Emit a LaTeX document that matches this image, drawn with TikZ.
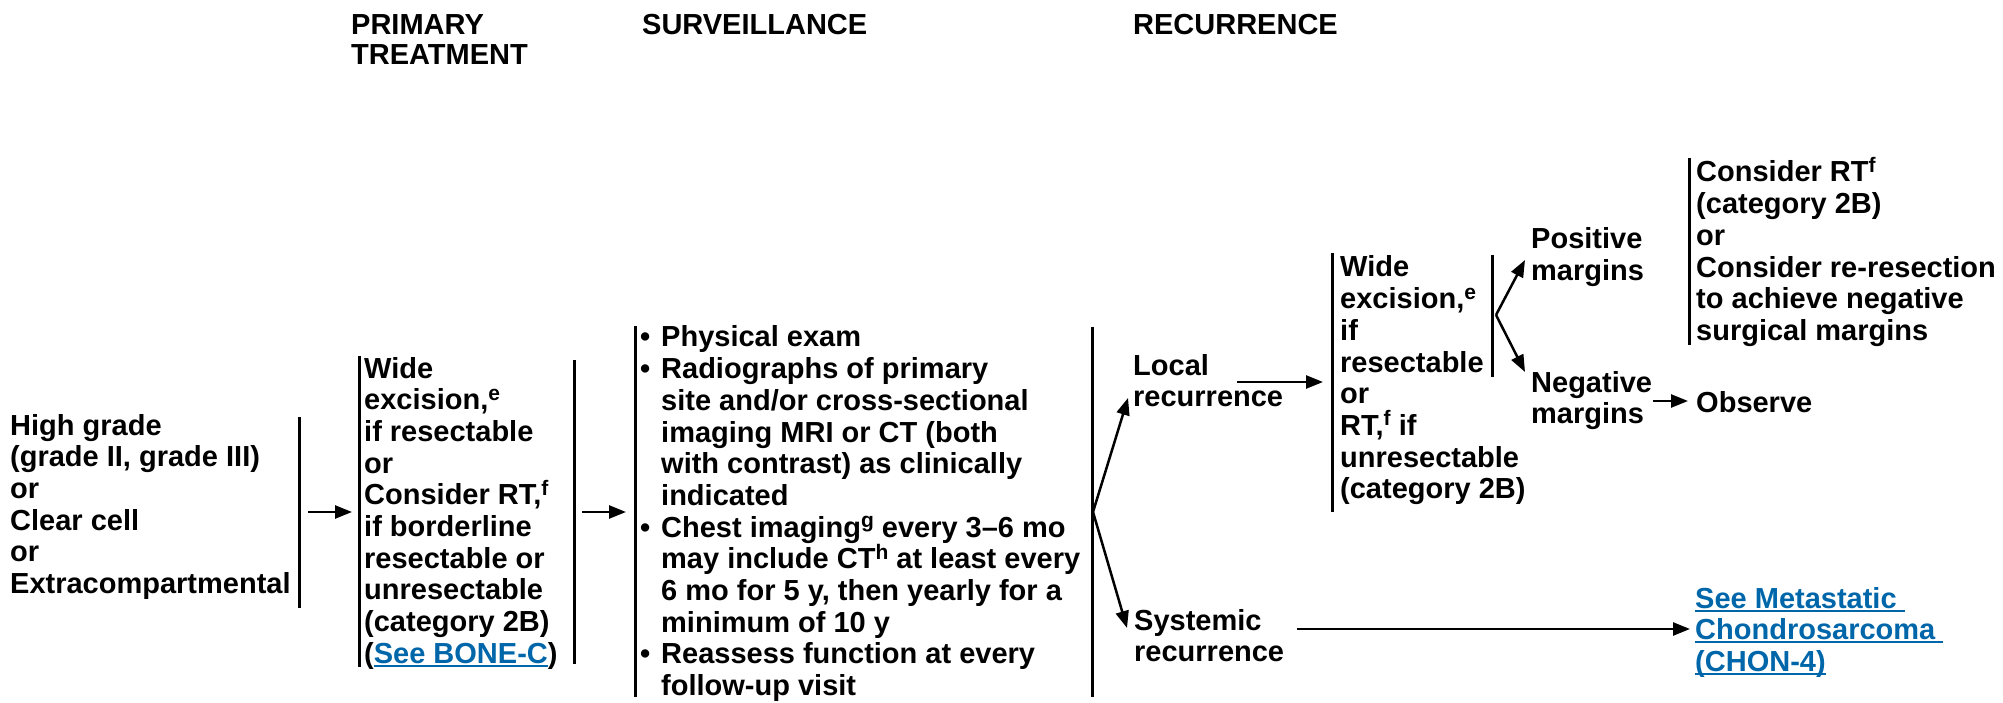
\documentclass[tikz,border=0pt]{standalone}
\usepackage{fontspec}
\setmainfont{Liberation Sans}
\usetikzlibrary{arrows.meta}
\definecolor{linkblue}{RGB}{0,102,170}
\newcommand\sups[1]{\smash{\raisebox{9.5pt}{\fontsize{21}{21}\selectfont #1}}}
\newcommand\lnk[1]{{\color{linkblue}\setbox0=\hbox{#1}\rlap{\rule[-3.5pt]{\wd0}{1.8pt}}\box0}}
\newcommand\bul{\makebox[21pt][l]{\textbullet}}
\newcommand\ind{\hspace*{21pt}}
\newcommand\lines[1]{\begin{tabular}[t]{@{}l@{}}#1\end{tabular}}
\tikzset{
  txt/.style={anchor=base west, inner sep=0pt, font=\fontsize{29}{31.7}\selectfont\bfseries},
  bar/.style={line width=3pt},
  arr/.style={line width=2.5pt, -{Triangle[length=17pt,width=13pt]}},
}
\begin{document}
\begin{tikzpicture}[x=1pt,y=-1pt]
\useasboundingbox (0,0) rectangle (2003,703);
% headers
\node[txt] (hprim) at (351,35) {\fontsize{29}{30}\selectfont\lines{PRIMARY\\TREATMENT}};
\node[txt] (hsurv) at (642,35) {SURVEILLANCE};
\node[txt] (hrec) at (1133,35) {RECURRENCE};
% text columns
\node[txt] (diag) at (10,435) {\lines{High grade\\(grade II, grade III)\\or\\Clear cell\\or\\Extracompartmental}};
\node[txt] (prim) at (364,378) {\lines{Wide\\excision,\sups{e}\\if resectable\\or\\Consider RT,\sups{f}\\if borderline\\resectable or\\unresectable\\(category 2B)\\(\lnk{See BONE-C})}};
\node[txt] (surv) at (640,347) {\lines{\bul Physical exam\\\bul Radiographs of primary\\\ind site and/or cross-sectional\\\ind imaging MRI or CT (both\\\ind with contrast) as clinically\\\ind indicated\\\bul Chest imaging\sups{g} every 3\textendash 6 mo\\\ind may include CT\sups{h} at least every\\\ind 6 mo for 5 y, then yearly for a\\\ind minimum of 10 y\\\bul Reassess function at every\\\ind follow-up visit}};
\node[txt] (loc) at (1133,375) {\lines{Local\\recurrence}};
\node[txt] (sys) at (1134,630) {\lines{Systemic\\recurrence}};
\node[txt] (wide) at (1340,277) {\lines{Wide\\excision,\sups{e}\\if\\resectable\\or\\RT,\sups{f} if\\unresectable\\(category 2B)}};
\node[txt] (pos) at (1531,249) {\lines{Positive\\margins}};
\node[txt] (neg) at (1531,392) {\lines{Negative\\margins}};
\node[txt] (crt) at (1696,182) {\lines{Consider RT\sups{f}\\(category 2B)\\or\\Consider re-resection\\to achieve negative\\surgical margins}};
\node[txt] (obs) at (1696,412) {Observe};
\node[txt] (meta) at (1695,608) {\lines{\lnk{See Metastatic\ }\\\lnk{Chondrosarcoma\ }\\\lnk{(CHON-4)}}};
% bars
\coordinate (b1t) at (299,417); \coordinate (b1b) at (299,608);
\coordinate (b2t) at (359,356); \coordinate (b2b) at (359,667);
\coordinate (b3t) at (574,360); \coordinate (b3b) at (574,664);
\coordinate (b4t) at (635,326); \coordinate (b4b) at (635,697);
\coordinate (b5t) at (1092,327); \coordinate (b5b) at (1092,697);
\coordinate (b6t) at (1332,253); \coordinate (b6b) at (1332,512);
\coordinate (b7t) at (1492,255); \coordinate (b7b) at (1492,377);
\coordinate (b8t) at (1689,158); \coordinate (b8b) at (1689,345);
\foreach \b in {b1,b2,b3,b4,b5,b6,b7,b8} \draw[bar] (\b t) -- (\b b);
% connector ends
\coordinate (a1s) at (308,512); \coordinate (a1e) at (352,512);
\coordinate (a2s) at (582,512); \coordinate (a2e) at (626,512);
\coordinate (br1) at (1093,512);
\coordinate (locin) at (1128,398); \coordinate (sysin) at (1127,628);
\coordinate (a3s) at (1237,382); \coordinate (a3e) at (1323,382);
\coordinate (br2) at (1496,315);
\coordinate (posin) at (1525,260); \coordinate (negin) at (1525,372);
\coordinate (a4s) at (1653,401); \coordinate (a4e) at (1688,401);
\coordinate (a5s) at (1297,629); \coordinate (a5e) at (1690,629);
% connectors
\draw[arr] (a1s) -- (a1e);
\draw[arr] (a2s) -- (a2e);
\draw[arr] (br1) -- (locin);
\draw[arr] (br1) -- (sysin);
\draw[arr] (a3s) -- (a3e);
\draw[arr] (br2) -- (posin);
\draw[arr] (br2) -- (negin);
\draw[arr] (a4s) -- (a4e);
\draw[arr] (a5s) -- (a5e);
\end{tikzpicture}
\end{document}
